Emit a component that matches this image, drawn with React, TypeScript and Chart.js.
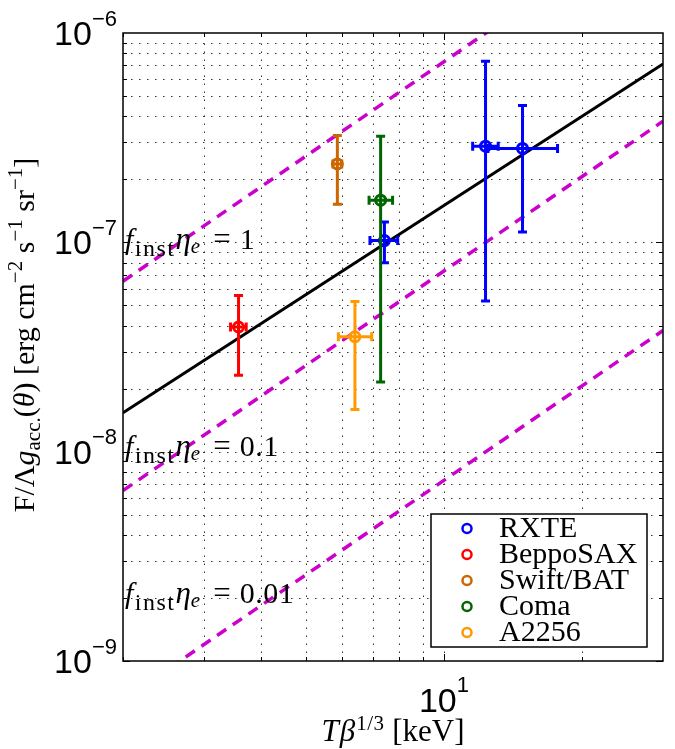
import React, { useEffect, useRef } from 'react';
import { Chart, registerables } from 'chart.js';

Chart.register(...registerables);

// ---------------- data ----------------
const seriesNames = ['RXTE', 'BeppoSAX', 'Swift/BAT', 'Coma', 'A2256'];
const seriesColors = ['#0000ff', '#ff0000', '#cc6600', '#006600', '#ff9900'];

const rxteX = [7.42, 12.32, 14.83];
const rxteY = [1.02e-7, 2.88e-7, 2.81e-7];
const rxteXLow = [6.9, 11.55, 12.47];
const rxteXHigh = [7.93, 13.13, 17.68];
const rxteYLow = [7.98e-8, 5.24e-8, 1.12e-7];
const rxteYHigh = [1.25e-7, 7.32e-7, 4.51e-7];

const beppoX = [3.57];
const beppoY = [3.94e-8];
const beppoXLow = [3.43];
const beppoXHigh = [3.71];
const beppoYLow = [2.32e-8];
const beppoYHigh = [5.57e-8];

const swiftX = [5.86];
const swiftY = [2.37e-7];
const swiftXLow = [5.73];
const swiftXHigh = [5.99];
const swiftYLow = [1.52e-7];
const swiftYHigh = [3.24e-7];

const comaX = [7.28];
const comaY = [1.59e-7];
const comaXLow = [6.87];
const comaXHigh = [7.73];
const comaYLow = [2.15e-8];
const comaYHigh = [3.21e-7];

const a2256X = [6.4];
const a2256Y = [3.54e-8];
const a2256XLow = [5.89];
const a2256XHigh = [6.96];
const a2256YLow = [1.59e-8];
const a2256YHigh = [5.22e-8];

// model lines (end points)
const lineX = [2, 30];
const fitY = [1.535e-8, 7.11e-7];
const etaOneY = [6.52e-8, 3.79e-6];
const etaTenthY = [6.52e-9, 3.79e-7];
const etaHundredthY = [6.52e-10, 3.79e-8];

// annotations
const annoLabels = ['1', '0.1', '0.01'];
const annoX = [2.02, 2.02, 2.02];
const annoY = [9.25e-8, 9.5e-9, 1.89e-9];

// ticks
const xMajorTicks = [10];
const xMajorExp = ['1'];
const yMajorTicks = [1e-9, 1e-8, 1e-7, 1e-6];
const yMajorExp = ['−9', '−8', '−7', '−6'];
const minorMultipliers = [2, 3, 4, 5, 6, 7, 8, 9];

// ---------------- build ----------------
type Series = {
  name: string; color: string;
  x: number[]; y: number[];
  xLow: number[]; xHigh: number[]; yLow: number[]; yHigh: number[];
};

const series: Series[] = [
  { name: seriesNames[0], color: seriesColors[0], x: rxteX, y: rxteY, xLow: rxteXLow, xHigh: rxteXHigh, yLow: rxteYLow, yHigh: rxteYHigh },
  { name: seriesNames[1], color: seriesColors[1], x: beppoX, y: beppoY, xLow: beppoXLow, xHigh: beppoXHigh, yLow: beppoYLow, yHigh: beppoYHigh },
  { name: seriesNames[2], color: seriesColors[2], x: swiftX, y: swiftY, xLow: swiftXLow, xHigh: swiftXHigh, yLow: swiftYLow, yHigh: swiftYHigh },
  { name: seriesNames[3], color: seriesColors[3], x: comaX, y: comaY, xLow: comaXLow, xHigh: comaXHigh, yLow: comaYLow, yHigh: comaYHigh },
  { name: seriesNames[4], color: seriesColors[4], x: a2256X, y: a2256Y, xLow: a2256XLow, xHigh: a2256XHigh, yLow: a2256YLow, yHigh: a2256YHigh },
];

function decadeValues(minExp: number, maxExp: number, includeMajor: boolean): number[] {
  const out: number[] = [];
  for (let e = minExp; e < maxExp; e++) {
    if (includeMajor) out.push(Math.pow(10, e));
    for (const m of minorMultipliers) out.push(m * Math.pow(10, e));
  }
  return out;
}

const SERIF = '"Liberation Serif", "Times New Roman", serif';
const SANS = '"Liberation Sans", Arial, sans-serif';

type Seg = { t: string; f: string; dy?: number; ls?: number; gap?: number };

function segAdvance(ctx: CanvasRenderingContext2D, s: Seg): number {
  ctx.font = s.f;
  let w = 0;
  if (s.ls) {
    for (const ch of s.t) w += ctx.measureText(ch).width + s.ls;
  } else {
    w = ctx.measureText(s.t).width;
  }
  return w + (s.gap || 0);
}

function segsWidth(ctx: CanvasRenderingContext2D, segs: Seg[]): number {
  let w = 0;
  for (const s of segs) w += segAdvance(ctx, s);
  return w;
}

function drawSegs(ctx: CanvasRenderingContext2D, segs: Seg[], x: number, y: number) {
  let cx = x;
  for (const s of segs) {
    ctx.font = s.f;
    if (s.ls) {
      let c = cx;
      for (const ch of s.t) {
        ctx.fillText(ch, c, y + (s.dy || 0));
        c += ctx.measureText(ch).width + s.ls;
      }
    } else {
      ctx.fillText(s.t, cx, y + (s.dy || 0));
    }
    cx += segAdvance(ctx, s);
  }
}

const customPlugin = {
  id: 'customDraw',
  beforeDatasetsDraw(chart: any) {
    const { ctx, chartArea: a, scales } = chart;
    const xs = scales.x;
    const ys = scales.y;
    ctx.save();
    ctx.strokeStyle = '#333';
    ctx.lineWidth = 1;
    ctx.setLineDash([1.5, 6.5]);
    const xGrid = [...decadeValues(0, 1, false), 10, 20].filter(v => v > 2 && v < 30);
    for (const v of xGrid) {
      const px = Math.round(xs.getPixelForValue(v)) + 0.5;
      ctx.beginPath();
      ctx.moveTo(px, a.bottom);
      ctx.lineTo(px, a.top);
      ctx.stroke();
    }
    const yGrid = decadeValues(-9, -6, true).filter(v => v > 1.0001e-9 && v < 0.9999e-6);
    for (const v of yGrid) {
      const py = Math.round(ys.getPixelForValue(v)) + 0.5;
      ctx.beginPath();
      ctx.moveTo(a.left, py);
      ctx.lineTo(a.right, py);
      ctx.stroke();
    }
    ctx.restore();
  },
  beforeDatasetDraw(chart: any, args: any) {
    const s = series[args.index];
    if (!s) return;
    const { ctx, chartArea: a, scales } = chart;
    const xs = scales.x;
    const ys = scales.y;
    ctx.save();
    ctx.beginPath();
    ctx.rect(a.left, a.top, a.right - a.left, a.bottom - a.top);
    ctx.clip();
    ctx.strokeStyle = s.color;
    ctx.lineWidth = 3;
    const cap = 4.5;
    for (let j = 0; j < s.x.length; j++) {
      const px = xs.getPixelForValue(s.x[j]);
      const py = ys.getPixelForValue(s.y[j]);
      const yl = ys.getPixelForValue(s.yLow[j]);
      const yh = ys.getPixelForValue(s.yHigh[j]);
      const xl = xs.getPixelForValue(s.xLow[j]);
      const xh = xs.getPixelForValue(s.xHigh[j]);
      ctx.beginPath();
      ctx.moveTo(px, yl); ctx.lineTo(px, yh);
      ctx.moveTo(px - cap, yl); ctx.lineTo(px + cap, yl);
      ctx.moveTo(px - cap, yh); ctx.lineTo(px + cap, yh);
      ctx.moveTo(xl, py); ctx.lineTo(xh, py);
      ctx.moveTo(xl, py - cap); ctx.lineTo(xl, py + cap);
      ctx.moveTo(xh, py - cap); ctx.lineTo(xh, py + cap);
      ctx.stroke();
    }
    ctx.restore();
  },
  afterDraw(chart: any) {
    const { ctx, chartArea: a, scales } = chart;
    const xs = scales.x;
    const ys = scales.y;
    ctx.save();

    // annotations
    ctx.fillStyle = '#000';
    ctx.textBaseline = 'alphabetic';
    for (let i = 0; i < annoLabels.length; i++) {
      const px = xs.getPixelForValue(annoX[i]);
      const py = ys.getPixelForValue(annoY[i]);
      const segs: Seg[] = [
        { t: 'f', f: `italic 30px ${SERIF}`, gap: 1.5 },
        { t: 'inst', f: `24px ${SERIF}`, dy: 7, ls: 1.5 },
        { t: 'η', f: `italic 31px ${SERIF}` },
        { t: 'e', f: `italic 21px ${SERIF}`, dy: 4, gap: 13 },
        { t: '=', f: `31px ${SERIF}`, gap: 9 },
        { t: annoLabels[i], f: `30px ${SERIF}`, ls: 0.5 },
      ];
      drawSegs(ctx, segs, px, py);
    }

    // axes box
    ctx.strokeStyle = '#000';
    ctx.lineWidth = 1.5;
    ctx.setLineDash([]);
    ctx.strokeRect(a.left, a.top, a.right - a.left, a.bottom - a.top);

    // ticks
    ctx.lineWidth = 1;
    const majLen = 7;
    const minLen = 4;
    const xTickVals = [...decadeValues(0, 1, false), 10, 20].filter(v => v >= 2 && v <= 30);
    for (const v of xTickVals) {
      const px = Math.round(xs.getPixelForValue(v)) + 0.5;
      const len = xMajorTicks.includes(v) ? majLen : minLen;
      ctx.beginPath();
      ctx.moveTo(px, a.bottom); ctx.lineTo(px, a.bottom - len);
      ctx.moveTo(px, a.top); ctx.lineTo(px, a.top + len);
      ctx.stroke();
    }
    const yTickVals = decadeValues(-9, -6, true);
    for (const v of yTickVals) {
      const py = Math.round(ys.getPixelForValue(v)) + 0.5;
      const len = yMajorTicks.some(m => Math.abs(m - v) / v < 1e-6) ? majLen : minLen;
      ctx.beginPath();
      ctx.moveTo(a.left, py); ctx.lineTo(a.left + len, py);
      ctx.moveTo(a.right, py); ctx.lineTo(a.right - len, py);
      ctx.stroke();
    }

    // y tick labels
    ctx.fillStyle = '#000';
    for (let i = 0; i < yMajorTicks.length; i++) {
      const py = ys.getPixelForValue(yMajorTicks[i]);
      const segs: Seg[] = [
        { t: '10', f: `34px ${SANS}`, dy: 12 },
        { t: yMajorExp[i], f: `22px ${SANS}`, dy: -7.5 },
      ];
      const w = segsWidth(ctx, segs);
      drawSegs(ctx, segs, a.left - 6 - w, py);
    }
    // x tick labels
    for (let i = 0; i < xMajorTicks.length; i++) {
      const px = xs.getPixelForValue(xMajorTicks[i]);
      const segs: Seg[] = [
        { t: '10', f: `34px ${SANS}`, dy: 50.5 },
        { t: xMajorExp[i], f: `22px ${SANS}`, dy: 30.5 },
      ];
      const w = segsWidth(ctx, segs);
      drawSegs(ctx, segs, px - w / 2, a.bottom);
    }

    // x axis title
    {
      const segs: Seg[] = [
        { t: 'T', f: `italic 31px ${SERIF}`, gap: 1 },
        { t: 'β', f: `italic 31px ${SERIF}`, gap: 1 },
        { t: '1/3', f: `21px ${SERIF}`, dy: -11, ls: 0.5 },
        { t: ' [keV]', f: `31px ${SERIF}` },
      ];
      const w = segsWidth(ctx, segs);
      drawSegs(ctx, segs, (a.left + a.right) / 2 - w / 2, a.bottom + 80);
    }

    // y axis title
    {
      const segs: Seg[] = [
        { t: 'F/Λ', f: `30px ${SERIF}` },
        { t: 'g', f: `italic 30px ${SERIF}` },
        { t: 'acc.', f: `21px ${SERIF}`, dy: 6 },
        { t: '(', f: `30px ${SERIF}` },
        { t: 'θ', f: `italic 30px ${SERIF}` },
        { t: ') [erg cm', f: `30px ${SERIF}` },
        { t: '−2', f: `21px ${SERIF}`, dy: -12 },
        { t: ' s', f: `30px ${SERIF}` },
        { t: '−1', f: `21px ${SERIF}`, dy: -12 },
        { t: ' sr', f: `30px ${SERIF}` },
        { t: '−1', f: `21px ${SERIF}`, dy: -12 },
        { t: ']', f: `30px ${SERIF}` },
      ];
      const w = segsWidth(ctx, segs);
      ctx.save();
      ctx.translate(34, (a.top + a.bottom) / 2 - 12);
      ctx.rotate(-Math.PI / 2);
      drawSegs(ctx, segs, -w / 2, 0);
      ctx.restore();
    }

    // legend
    {
      const L = a.right - 232;
      const T = a.bottom - 147;
      const W = 216;
      const H = 133;
      ctx.fillStyle = '#fff';
      ctx.fillRect(L, T, W, H);
      ctx.strokeStyle = '#000';
      ctx.lineWidth = 1.5;
      ctx.strokeRect(L, T, W, H);
      ctx.textBaseline = 'middle';
      for (let i = 0; i < series.length; i++) {
        const cy = T + 14.5 + i * 26;
        ctx.strokeStyle = series[i].color;
        ctx.lineWidth = 2.5;
        ctx.beginPath();
        ctx.arc(L + 36, cy, 4.5, 0, Math.PI * 2);
        ctx.stroke();
        ctx.fillStyle = '#000';
        ctx.font = `30px ${SERIF}`;
        ctx.fillText(series[i].name, L + 68, cy + 1);
      }
    }
    ctx.restore();
  },
};

const lineDatasets = [
  { data: lineX.map((x, i) => ({ x, y: fitY[i] })), borderColor: '#000', borderWidth: 3, borderDash: [] as number[] },
  { data: lineX.map((x, i) => ({ x, y: etaOneY[i] })), borderColor: '#cc00cc', borderWidth: 3.5, borderDash: [11, 8] },
  { data: lineX.map((x, i) => ({ x, y: etaTenthY[i] })), borderColor: '#cc00cc', borderWidth: 3.5, borderDash: [11, 8] },
  { data: lineX.map((x, i) => ({ x, y: etaHundredthY[i] })), borderColor: '#cc00cc', borderWidth: 3.5, borderDash: [11, 8] },
];

export default function App() {
  const ref = useRef<HTMLCanvasElement>(null);
  useEffect(() => {
    const canvas = ref.current;
    if (!canvas) return;
    const datasets: any[] = [
      ...series.map((s, i) => ({
        label: s.name,
        data: s.x.map((x, j) => ({ x, y: s.y[j] })),
        borderColor: s.color,
        backgroundColor: 'rgba(0,0,0,0)',
        pointRadius: 5,
        pointBorderWidth: 3,
        pointStyle: 'circle',
        showLine: false,
        order: 5 - i,
      })),
      ...lineDatasets.map(l => ({
        label: '',
        data: l.data,
        borderColor: l.borderColor,
        borderWidth: l.borderWidth,
        borderDash: l.borderDash,
        pointRadius: 0,
        showLine: true,
        fill: false,
        order: 10,
      })),
    ];
    const chart = new Chart(canvas, {
      type: 'scatter',
      data: { datasets },
      options: {
        animation: false,
        responsive: false,
        events: [],
        layout: { padding: { left: 123, top: 33, right: 12, bottom: 88 } },
        scales: {
          x: { type: 'logarithmic', min: 2, max: 30, display: false },
          y: { type: 'logarithmic', min: 1e-9, max: 1e-6, display: false },
        },
        plugins: { legend: { display: false }, tooltip: { enabled: false } },
      },
      plugins: [customPlugin],
    } as any);
    return () => chart.destroy();
  }, []);
  return (
    <div style={{ position: 'absolute', left: 0, top: 0, width: 675, height: 749 }}>
      <canvas ref={ref} width={675} height={749} style={{ width: 675, height: 749, display: 'block' }} />
    </div>
  );
}
